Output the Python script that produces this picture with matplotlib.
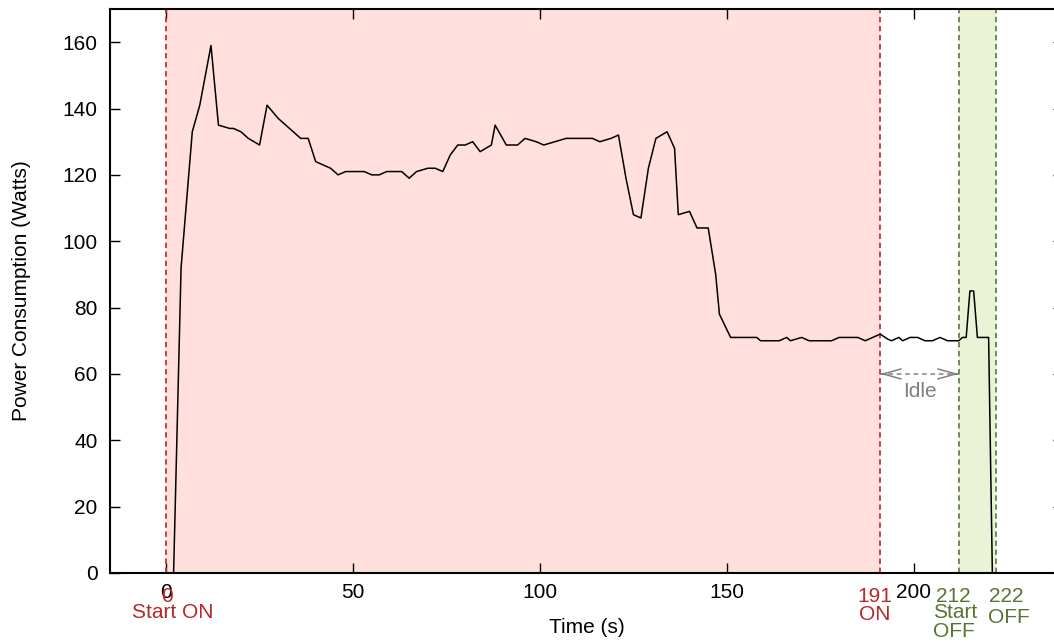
import matplotlib
matplotlib.use("Agg")
import matplotlib.pyplot as plt
import matplotlib.transforms as mtransforms

plt.rcParams['font.family'] = ['Liberation Sans', 'DejaVu Sans']

# power log (time in s, power in W)
time_s = [2, 4, 7, 9, 12, 14, 17, 18, 20, 22, 25, 27, 30, 32, 36, 38, 40, 44,
          46, 48, 53, 55, 57, 59, 63, 65, 67, 70, 72, 74, 76, 78, 80, 82, 84,
          87, 88, 91, 94, 96, 99, 101, 104, 107, 114, 116, 119, 121, 123, 125,
          127, 129, 131, 134, 136, 137, 140, 142, 145, 147, 148, 151, 158, 159,
          164, 166, 167, 170, 172, 178, 180, 185, 187, 191, 193, 194, 196, 197,
          199, 201, 203, 205, 207, 209, 212, 213, 214, 215, 216, 217, 220, 221]
power_w = [0, 92, 133, 141, 159, 135, 134, 134, 133, 131, 129, 141, 137, 135,
           131, 131, 124, 122, 120, 121, 121, 120, 120, 121, 121, 119, 121, 122,
           122, 121, 126, 129, 129, 130, 127, 129, 135, 129, 129, 131, 130, 129,
           130, 131, 131, 130, 131, 132, 119, 108, 107, 122, 131, 133, 128, 108,
           109, 104, 104, 90, 78, 71, 71, 70, 70, 71, 70, 71, 70, 70, 71, 71,
           70, 72, 70.5, 70, 71, 70, 71, 71, 70, 70, 71, 70, 70, 71, 71, 85,
           85, 71, 71, 0]

start_on = 0
end_on = 191
start_off = 212
end_off = 222
idle_y = 60

xticks = [0, 50, 100, 150, 200]
yticks = [0, 20, 40, 60, 80, 100, 120, 140, 160]

red_line = '#C83232'
red_text = '#B8282A'
green_line = '#64824A'
green_text = '#5A7332'
idle_col = '#808080'
fs = 15

fig = plt.figure(figsize=(10.54, 6.43), dpi=100)
ax = fig.add_axes([0.1044, 0.1089, 0.9045, 0.8771])

ax.axvspan(start_on, end_on, color='#FFE0DC', lw=0, zorder=0)
ax.axvspan(start_off, end_off, color='#EAF3D6', lw=0, zorder=0)
for x in (start_on, end_on):
    ax.axvline(x, color=red_line, lw=1.3, linestyle=(0, (3, 2)), zorder=2)
for x in (start_off, end_off):
    ax.axvline(x, color=green_line, lw=1.3, linestyle=(0, (3, 2)), zorder=2)

ax.plot(time_s, power_w, color='black', lw=1.1, zorder=3)

# idle arrow: dashed shaft, solid open heads
ax.hlines(idle_y, end_on, start_off, color=idle_col, lw=1.1,
          linestyle=(0, (3, 2.5)), zorder=3)
for tip, back in ((end_on, end_on + 0.5), (start_off, start_off - 0.5)):
    ax.annotate('', xy=(tip, idle_y), xytext=(back, idle_y),
                arrowprops=dict(arrowstyle='->,head_length=0.65,head_width=0.18',
                                color=idle_col, lw=1.1, shrinkA=0, shrinkB=0,
                                mutation_scale=20))
ax.text((end_on + start_off) / 2, 54.7, 'Idle', color=idle_col, fontsize=fs,
        ha='center', va='center')

ax.set_xlim(-15, 240)
ax.set_ylim(0, 170)
ax.set_xticks(xticks)
ax.set_yticks(yticks)
ax.tick_params(direction='in', top=True, right=True, length=7, width=1,
               labelsize=fs)
ax.tick_params(axis='x', pad=7)
ax.tick_params(axis='y', pad=9)
for s in ax.spines.values():
    s.set_linewidth(1.5)

# coloured event labels under the axis (text, x offset px, y offset px)
trans = mtransforms.blended_transform_factory(ax.transData, ax.transAxes)
events = [
    (start_on, [('0', 1, -29), ('Start ON', 7, -45)], red_text),
    (end_on, [('191', -5, -29), ('ON', -5, -47)], red_text),
    (start_off, [('212', -5, -29), ('Start', -4, -45), ('OFF', -5, -64)], green_text),
    (end_off, [('222', 10, -29), ('OFF', 13, -50)], green_text),
]
for x, lines, col in events:
    for txt, dx, dy in lines:
        ax.annotate(txt, xy=(x, 0), xycoords=trans, xytext=(dx, dy),
                    textcoords='offset pixels', ha='center', va='baseline',
                    color=col, fontsize=fs, annotation_clip=False)

ax.set_xlabel('Time (s)', fontsize=fs)
ax.xaxis.label.set_verticalalignment('center')
ax.xaxis.set_label_coords(0.5, -(627 - 573) / 563)
ax.set_ylabel('Power Consumption (Watts)', fontsize=fs)
ax.yaxis.label.set_verticalalignment('center')
ax.yaxis.set_label_coords(-(110 - 22) / 951, 0.5)

fig.savefig('out.png', dpi=100)
